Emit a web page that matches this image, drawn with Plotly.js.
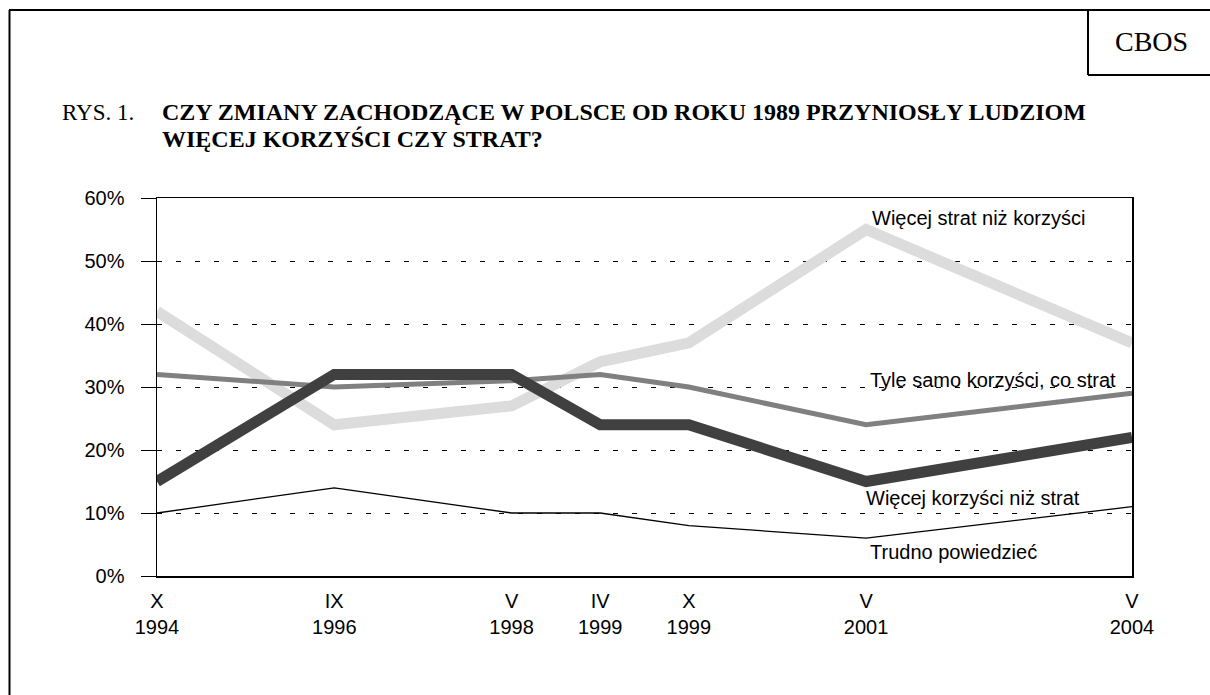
<!DOCTYPE html>
<html>
<head>
<meta charset="utf-8">
<script src="https://cdn.plot.ly/plotly-3.0.1.min.js"></script>
<style>
html, body { margin: 0; padding: 0; background: #fff; }
#chart { width: 1210px; height: 695px; }
</style>
</head>
<body>
<div id="chart"></div>
<script>
// ---- data ----
const surveyLabels = ['X<br>1994', 'IX<br>1996', 'V<br>1998', 'IV<br>1999', 'X<br>1999', 'V<br>2001', 'V<br>2004'];
const surveyIndex = [0, 2, 4, 5, 6, 8, 11];
const seriesNames = ['Więcej strat niż korzyści', 'Tyle samo korzyści, co strat', 'Więcej korzyści niż strat', 'Trudno powiedzieć'];
const strat = [42, 24, 27, 34, 37, 55, 37];
const tyle = [32, 30, 31, 32, 30, 24, 29];
const korzysci = [15, 32, 32, 24, 24, 15, 22];
const trudno = [10, 14, 10, 10, 8, 6, 11];
const yTicks = [0, 10, 20, 30, 40, 50, 60];
const yTickText = yTicks.map(v => v + '%');
const titlePrefix = 'RYS. 1.';
const titleLine1 = 'CZY ZMIANY ZACHODZĄCE W POLSCE OD ROKU 1989 PRZYNIOSŁY LUDZIOM';
const titleLine2 = 'WIĘCEJ KORZYŚCI CZY STRAT?';
const sourceLabel = 'CBOS';

// ---- layout helpers ----
const M = { l: 157, r: 78, t: 198, b: 119 };
const W = 1210, H = 695;
const PW = W - M.l - M.r, PH = H - M.t - M.b;
const px = x => (x - M.l) / PW;
const py = y => (H - M.b - y) / PH;

const sans = 'Liberation Sans, Arial, sans-serif';
const serif = 'Liberation Serif, Times New Roman, serif';

const styles = [
  { color: '#dcdcdc', width: 11 },
  { color: '#808080', width: 5 },
  { color: '#404040', width: 11 },
  { color: '#000000', width: 1.3 }
];
const values = [strat, tyle, korzysci, trudno];

const traces = values.map((v, i) => ({
  type: 'scatter',
  mode: 'lines',
  x: surveyIndex,
  y: v,
  name: seriesNames[i],
  line: { color: styles[i].color, width: styles[i].width },
  hoverinfo: 'skip'
}));

const labelPos = [
  { x: 8.04, y: 56.8 },
  { x: 8.02, y: 31.1 },
  { x: 7.98, y: 12.4 },
  { x: 8.02, y: 3.8 }
];

const annotations = seriesNames.map((n, i) => ({
  xref: 'x', yref: 'y', x: labelPos[i].x, y: labelPos[i].y,
  xanchor: 'left', yanchor: 'middle', text: n, showarrow: false,
  font: { family: sans, size: 20, color: '#000' }
}));

annotations.push(
  { xref: 'paper', yref: 'paper', x: px(60), y: py(112), xanchor: 'left', yanchor: 'middle',
    text: titlePrefix, showarrow: false, font: { family: serif, size: 23, color: '#000' } },
  { xref: 'paper', yref: 'paper', x: px(160), y: py(112), xanchor: 'left', yanchor: 'middle',
    text: '<b>' + titleLine1 + '</b>', showarrow: false, font: { family: serif, size: 24, color: '#000' } },
  { xref: 'paper', yref: 'paper', x: px(160), y: py(139), xanchor: 'left', yanchor: 'middle',
    text: '<b>' + titleLine2 + '</b>', showarrow: false, font: { family: serif, size: 24, color: '#000' } },
  { xref: 'paper', yref: 'paper', x: px(1151), y: py(42), xanchor: 'center', yanchor: 'middle',
    text: sourceLabel, showarrow: false, font: { family: serif, size: 28, color: '#000' } }
);

const frameLine = { color: '#000', width: 2 };
const shapes = [
  { type: 'line', xref: 'paper', yref: 'paper', x0: px(9), x1: px(1212), y0: py(10), y1: py(10), line: frameLine },
  { type: 'line', xref: 'paper', yref: 'paper', x0: px(9.5), x1: px(9.5), y0: py(10), y1: py(700), line: frameLine },
  { type: 'line', xref: 'paper', yref: 'paper', x0: px(1088), x1: px(1088), y0: py(10), y1: py(75), line: frameLine },
  { type: 'line', xref: 'paper', yref: 'paper', x0: px(1088), x1: px(1212), y0: py(75), y1: py(75), line: frameLine }
];

const layout = {
  width: W, height: H,
  margin: M,
  paper_bgcolor: '#fff', plot_bgcolor: '#fff',
  showlegend: false,
  font: { family: sans, size: 20, color: '#000' },
  xaxis: {
    range: [0, 11],
    tickmode: 'array', tickvals: surveyIndex, ticktext: surveyLabels,
    ticks: '', showgrid: false, zeroline: false,
    showline: true, linecolor: '#000', linewidth: 1.5, mirror: true,
    tickfont: { family: sans, size: 20, color: '#000' },
    ticklabelstandoff: 6
  },
  yaxis: {
    range: [0, 60],
    tickmode: 'array', tickvals: yTicks, ticktext: yTickText,
    ticks: 'outside', ticklen: 15, tickcolor: '#000', tickwidth: 1,
    showgrid: true, gridcolor: '#000', gridwidth: 1, griddash: '5px,14px',
    zeroline: false,
    showline: true, linecolor: '#000', linewidth: 1.5, mirror: true,
    tickfont: { family: sans, size: 20, color: '#000' },
    ticklabelstandoff: 12
  },
  annotations: annotations,
  shapes: shapes
};

Plotly.newPlot('chart', traces, layout, { displayModeBar: false, staticPlot: true });
</script>
</body>
</html>
